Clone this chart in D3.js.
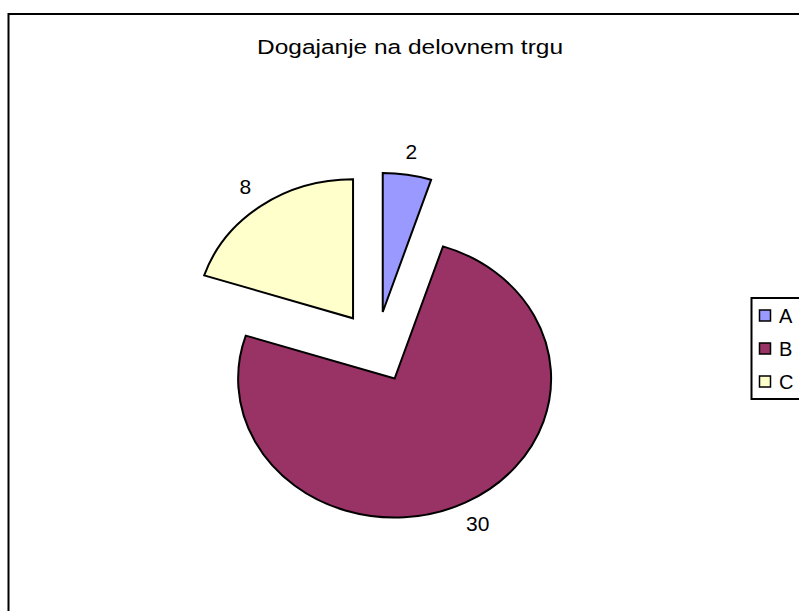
<!DOCTYPE html>
<html>
<head>
<meta charset="utf-8">
<script src="https://cdn.jsdelivr.net/npm/d3@7"></script>
<style>
  html, body { margin: 0; padding: 0; background: #fff; }
  svg { display: block; }
  text { font-family: "Liberation Sans", Arial, sans-serif; fill: #000; }
</style>
</head>
<body>
<svg id="chart" width="799" height="611"></svg>
<script>
const categories = ["A", "B", "C"];
const values = [2, 30, 8];
const colors = ["#9999FF", "#993366", "#FFFFCC"];
const title = "Dogajanje na delovnem trgu";

const svg = d3.select("#chart");

// outer chart border
svg.append("rect")
  .attr("x", 8.5).attr("y", 14).attr("width", 820).attr("height", 620)
  .attr("fill", "#fff").attr("stroke", "#000").attr("stroke-width", 2);

// title
svg.append("text")
  .attr("x", 410).attr("y", 54)
  .attr("text-anchor", "middle")
  .attr("font-size", 20.5)
  .attr("textLength", 306)
  .attr("lengthAdjust", "spacingAndGlyphs")
  .text(title);

// pie geometry
const cx = 376.5, cy = 347;
const rx = 156.5, ry = 139;
const explode = 0.255;
const labelK = 1.17;

const pie = d3.pie().sort(null).value(d => d)(values);
const arc = d3.arc().innerRadius(0).outerRadius(rx);

const g = svg.append("g")
  .attr("transform", `translate(${cx},${cy}) scale(1,${ry / rx})`);

pie.forEach((p, i) => {
  const mid = (p.startAngle + p.endAngle) / 2;
  const ox = explode * rx * Math.sin(mid);
  const oy = -explode * rx * Math.cos(mid);
  g.append("path")
    .attr("d", arc(p))
    .attr("transform", `translate(${ox},${oy})`)
    .attr("fill", colors[i])
    .attr("stroke", "#000")
    .attr("stroke-width", 2)
    .attr("stroke-linejoin", "miter")
    .attr("vector-effect", "non-scaling-stroke");
});

// labels
pie.forEach((p, i) => {
  const mid = (p.startAngle + p.endAngle) / 2;
  const k = explode + labelK;
  const lx = cx + k * rx * Math.sin(mid);
  const ly = cy - k * ry * Math.cos(mid);
  svg.append("text")
    .attr("x", lx).attr("y", ly)
    .attr("dy", "0.36em")
    .attr("text-anchor", "middle")
    .attr("font-size", 20)
    .attr("transform", `translate(${lx},0) scale(1.05,1) translate(${-lx},0)`)
    .text(values[i]);
});

// legend
const lg = svg.append("g");
lg.append("rect")
  .attr("x", 751.5).attr("y", 298).attr("width", 80).attr("height", 101)
  .attr("fill", "#fff").attr("stroke", "#000").attr("stroke-width", 2);

const legY = d3.scalePoint().domain(categories).range([316, 382]);
categories.forEach((c, i) => {
  const y = legY(c);
  lg.append("rect")
    .attr("x", 759.5).attr("y", y - 6).attr("width", 11).attr("height", 11)
    .attr("fill", colors[i]).attr("stroke", "#000").attr("stroke-width", 1.5);
  lg.append("text")
    .attr("x", 779).attr("y", y)
    .attr("dy", "0.36em")
    .attr("font-size", 20)
    .text(c);
});
</script>
</body>
</html>
